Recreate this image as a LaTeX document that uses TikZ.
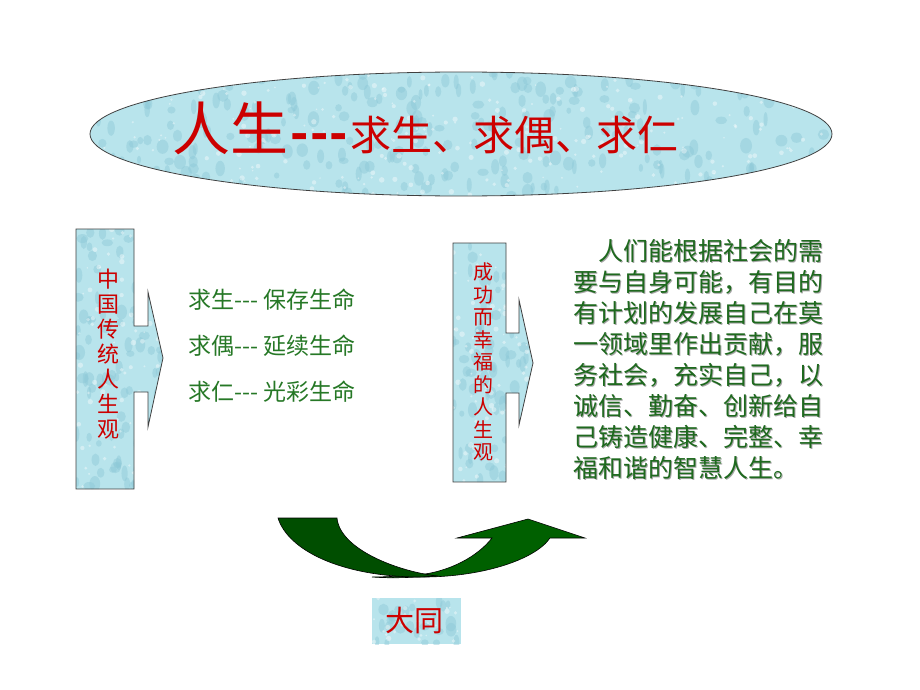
\documentclass[tikz,border=0pt]{standalone}
\usepackage{fontspec}
\setmainfont{Noto Sans CJK SC}
\newfontfamily\cjk{Noto Sans CJK SC}
\definecolor{water}{RGB}{184,228,236}
\definecolor{waterdk}{RGB}{140,200,215}
\definecolor{titlered}{RGB}{204,0,0}
\definecolor{itemgreen}{RGB}{38,120,38}
\definecolor{paragreen}{RGB}{30,105,30}
\definecolor{arrowgreen}{RGB}{0,96,0}
\definecolor{arrowgreendk}{RGB}{0,78,0}
\tikzset{
  waterline/.style={draw=black!75, line width=0.8pt},
  vtext/.style={align=center, inner sep=0pt, text=titlered},
  itemtext/.style={anchor=west, inner sep=0pt, text=itemgreen, font=\cjk\fontsize{23}{23}\selectfont},
  paratext/.style={anchor=north west, inner sep=0pt, align=left, font=\cjk\fontsize{25}{31}\selectfont},
}
\begin{document}
\begin{tikzpicture}[x=1pt,y=-1pt]
\pgfmathsetseed{7}
\useasboundingbox (0,0) rectangle (920,690);
\fill[white] (0,0) rectangle (920,690);

% title ellipse
\begin{scope}
  \clip (461,134) ellipse [x radius=371, y radius=62];
  \fill[water] (90,72) rectangle (832,196);
  \foreach \i in {1,...,260}{
    \fill[waterdk,opacity=0.45] ({90+rnd*742},{72+rnd*124}) ellipse [x radius={2+rnd*4}, y radius={3+rnd*5}];
  }
  \foreach \i in {1,...,260}{
    \fill[white,opacity=0.4] ({90+rnd*742},{72+rnd*124}) circle ({0.8+rnd*2});
  }
\end{scope}
\draw[waterline] (461,134) ellipse [x radius=371, y radius=62];
\node (title) [anchor=base west, inner sep=0pt, text=titlered, font=\cjk] at (172,150)
  {{\fontsize{58}{58}\selectfont 人生}{\fontsize{48}{48}\selectfont\bfseries\kern2pt-\kern1.5pt-\kern1.5pt-\kern2pt}{\fontsize{41}{41}\selectfont 求生、求偶、求仁}};

% left arrow box
\def\leftarrowpath{(76,229) -- (134,229) -- (134,326) -- (148,326) -- (148,292) -- (163,358) -- (148,427) -- (148,392) -- (134,392) -- (134,489) -- (76,489) -- cycle}
\begin{scope}
  \clip \leftarrowpath;
  \fill[water] (76,229) rectangle (163,489);
  \foreach \i in {1,...,90}{
    \fill[waterdk,opacity=0.45] ({76+rnd*87},{229+rnd*260}) ellipse [x radius={2+rnd*4}, y radius={3+rnd*5}];
  }
  \foreach \i in {1,...,90}{
    \fill[white,opacity=0.4] ({76+rnd*87},{229+rnd*260}) circle ({0.8+rnd*2});
  }
\end{scope}
\draw[waterline] \leftarrowpath;
\node (cnview) [vtext, font=\cjk\fontsize{22}{25}\selectfont] at (108,354) {中\\国\\传\\统\\人\\生\\观};

% items
\node (item1) [itemtext] at (188,300) {求生--- 保存生命};
\node (item2) [itemtext] at (188,346) {求偶--- 延续生命};
\node (item3) [itemtext] at (188,392) {求仁--- 光彩生命};

% middle arrow box
\def\midarrowpath{(453,243) -- (506,243) -- (506,333) -- (519,333) -- (519,300) -- (533,363) -- (519,425) -- (519,393) -- (506,393) -- (506,482) -- (453,482) -- cycle}
\begin{scope}
  \clip \midarrowpath;
  \fill[water] (453,243) rectangle (533,482);
  \foreach \i in {1,...,80}{
    \fill[waterdk,opacity=0.45] ({453+rnd*80},{243+rnd*239}) ellipse [x radius={2+rnd*4}, y radius={3+rnd*5}];
  }
  \foreach \i in {1,...,80}{
    \fill[white,opacity=0.4] ({453+rnd*80},{243+rnd*239}) circle ({0.8+rnd*2});
  }
\end{scope}
\draw[waterline] \midarrowpath;
\node (success) [vtext, font=\cjk\fontsize{20}{22.5}\selectfont] at (483,362) {成\\功\\而\\幸\\福\\的\\人\\生\\观};

% paragraph with shadow
\node (parashadow) [paratext, text=black!35] at (574.5,240.5)
  {\hspace*{1em}人们能根据社会的需\\要与自身可能，有目的\\有计划的发展自己在莫\\一领域里作出贡献，服\\务社会，充实自己，以\\诚信、勤奋、创新给自\\己铸造健康、完整、幸\\福和谐的智慧人生。};
\node (para) [paratext, text=paragreen] at (573,239)
  {\hspace*{1em}人们能根据社会的需\\要与自身可能，有目的\\有计划的发展自己在莫\\一领域里作出贡献，服\\务社会，充实自己，以\\诚信、勤奋、创新给自\\己铸造健康、完整、幸\\福和谐的智慧人生。};

% curved green arrow: right part then left part over it
\draw[fill=arrowgreen, draw=black, line width=0.6pt]
  (372,577) .. controls (385,578) and (400,578) .. (417,577)
  .. controls (480,578) and (535,560) .. (550,538)
  -- (585,538) -- (528,519) -- (457,538) -- (492,538)
  .. controls (478,556) and (450,572) .. (417,575)
  .. controls (400,576) and (385,577) .. (372,577) -- cycle;
\draw[fill=arrowgreendk, draw=black, line width=0.6pt]
  (278,518) .. controls (288,550) and (340,576) .. (417,577)
  .. controls (425,577) and (432,576) .. (438,576)
  .. controls (400,572) and (340,550) .. (337,518) -- cycle;

% datong box
\begin{scope}
  \clip (372,598) rectangle (461,644);
  \fill[water] (372,598) rectangle (461,644);
  \foreach \i in {1,...,25}{
    \fill[waterdk,opacity=0.45] ({372+rnd*89},{598+rnd*46}) ellipse [x radius={2+rnd*4}, y radius={3+rnd*5}];
  }
  \foreach \i in {1,...,25}{
    \fill[white,opacity=0.4] ({372+rnd*89},{598+rnd*46}) circle ({0.8+rnd*2});
  }
\end{scope}
\node (datong) [inner sep=0pt, text=titlered, font=\cjk\fontsize{29}{29}\selectfont] at (414,621) {大同};
\end{tikzpicture}
\end{document}
